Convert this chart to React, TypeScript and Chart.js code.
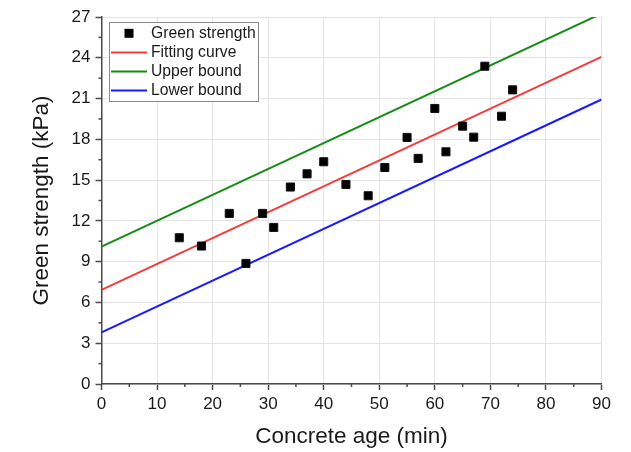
import React, { useEffect, useRef } from "react";
import { Chart, registerables } from "chart.js";

Chart.register(...registerables);

const ageMin = [14, 18, 23, 26, 29, 31, 34, 37, 40, 44, 48, 51, 55, 57, 60, 62, 65, 67, 69, 72, 74];
const greenStrength = [10.76, 10.15, 12.55, 8.87, 12.55, 11.52, 14.49, 15.46, 16.35, 14.68, 13.85, 15.93, 18.14, 16.6, 20.27, 17.08, 18.97, 18.16, 23.38, 19.7, 21.64];

const lineX = [0, 90];
const fitY = [6.92, 24.07];
const upperY = [10.1, 27.25];
const lowerY = [3.8, 20.93];

const xTicks = [0, 10, 20, 30, 40, 50, 60, 70, 80, 90];
const yTicks = [0, 3, 6, 9, 12, 15, 18, 21, 24, 27];

const FONT = "'Liberation Sans', Arial, sans-serif";
const AXIS = "#4a4a4a";
const GRID = "#e4e4e4";

const minorTicks = {
  id: "minorTicks",
  afterDraw(chart: any) {
    const { ctx, scales } = chart;
    const x = scales.x;
    const y = scales.y;
    ctx.save();
    ctx.strokeStyle = AXIS;
    ctx.lineWidth = 1.5;
    for (let i = 0; i < xTicks.length - 1; i++) {
      const v = (xTicks[i] + xTicks[i + 1]) / 2;
      const px = x.getPixelForValue(v);
      ctx.beginPath();
      ctx.moveTo(px, y.bottom);
      ctx.lineTo(px, y.bottom + 3);
      ctx.stroke();
    }
    for (let i = 0; i < yTicks.length - 1; i++) {
      const v = (yTicks[i] + yTicks[i + 1]) / 2;
      const py = y.getPixelForValue(v);
      ctx.beginPath();
      ctx.moveTo(x.left - 3, py);
      ctx.lineTo(x.left, py);
      ctx.stroke();
    }
    ctx.restore();
  },
};

const insideLegend = {
  id: "insideLegend",
  afterDraw(chart: any) {
    const { ctx } = chart;
    const left = 109.5;
    const top = 22.5;
    const w = 149;
    const h = 79;
    ctx.save();
    ctx.fillStyle = "#ffffff";
    ctx.fillRect(left, top, w, h);
    ctx.strokeStyle = "#8a8a8a";
    ctx.lineWidth = 1;
    ctx.strokeRect(left, top, w, h);
    ctx.font = `15.7px ${FONT}`;
    ctx.textBaseline = "middle";
    ctx.textAlign = "left";
    chart.data.datasets.forEach((ds: any, i: number) => {
      const cy = top + 10.8 + i * 19.1;
      if (ds.showLine === false) {
        ctx.fillStyle = "#000";
        ctx.fillRect(124.5, cy - 4.5, 9, 9);
      } else {
        ctx.strokeStyle = ds.borderColor;
        ctx.lineWidth = 2;
        ctx.beginPath();
        ctx.moveTo(111, cy);
        ctx.lineTo(147, cy);
        ctx.stroke();
      }
      ctx.fillStyle = "#1a1a1a";
      ctx.fillText(ds.label, 151, cy + 0.5);
    });
    ctx.restore();
  },
};

export default function App() {
  const ref = useRef<HTMLCanvasElement | null>(null);
  useEffect(() => {
    if (!ref.current) return;
    const pts = (xs: number[], ys: number[]) => xs.map((x, i) => ({ x, y: ys[i] }));
    const chart = new Chart(ref.current, {
      type: "scatter",
      data: {
        datasets: [
          {
            label: "Green strength",
            data: pts(ageMin, greenStrength),
            showLine: false,
            pointStyle: "rect",
            pointRadius: 5.7,
            backgroundColor: "#000",
            borderColor: "#111",
            borderWidth: 1,
          },
          {
            label: "Fitting curve",
            data: pts(lineX, fitY),
            showLine: true,
            borderColor: "#f23c3c",
            borderWidth: 2,
            pointRadius: 0,
          },
          {
            label: "Upper bound",
            data: pts(lineX, upperY),
            showLine: true,
            borderColor: "#178a17",
            borderWidth: 2,
            pointRadius: 0,
          },
          {
            label: "Lower bound",
            data: pts(lineX, lowerY),
            showLine: true,
            borderColor: "#1a1aff",
            borderWidth: 2,
            pointRadius: 0,
          },
        ] as any,
      },
      options: {
        animation: false,
        responsive: true,
        maintainAspectRatio: false,
        layout: { padding: { top: 17, right: 29.5, bottom: 0, left: 0 } },
        plugins: { legend: { display: false }, tooltip: { enabled: false } },
        scales: {
          x: {
            type: "linear",
            min: 0,
            max: 90,
            afterBuildTicks: (s: any) => {
              s.ticks = xTicks.map((v) => ({ value: v }));
            },
            afterFit: (s: any) => {
              s.height = 68;
            },
            ticks: { color: "#1a1a1a", font: { family: FONT, size: 17 }, padding: 4, maxRotation: 0 },
            grid: { color: GRID, lineWidth: 1, tickLength: 6, tickColor: AXIS, tickWidth: 1.5 },
            border: { display: true, color: AXIS, width: 1.5 },
            title: {
              display: true,
              text: "Concrete age (min)",
              color: "#1a1a1a",
              font: { family: FONT, size: 22.5 },
              padding: { top: 0, bottom: 1.5 },
            },
          },
          y: {
            type: "linear",
            min: 0,
            max: 27,
            afterBuildTicks: (s: any) => {
              s.ticks = yTicks.map((v) => ({ value: v }));
            },
            afterFit: (s: any) => {
              s.width = 101.5;
            },
            ticks: { color: "#1a1a1a", font: { family: FONT, size: 17 }, padding: 5 },
            grid: { color: GRID, lineWidth: 1, tickLength: 6, tickColor: AXIS, tickWidth: 1.5 },
            border: { display: true, color: AXIS, width: 1.5 },
            title: {
              display: true,
              text: "Green strength (kPa)",
              color: "#1a1a1a",
              font: { family: FONT, size: 22.5 },
              padding: { top: 28.5, bottom: 0 },
            },
          },
        },
      },
      plugins: [minorTicks, insideLegend],
    });
    return () => chart.destroy();
  }, []);
  return (
    <div style={{ position: "fixed", left: 0, top: 0, width: 631, height: 452, background: "#fff" }}>
      <canvas ref={ref} />
    </div>
  );
}
